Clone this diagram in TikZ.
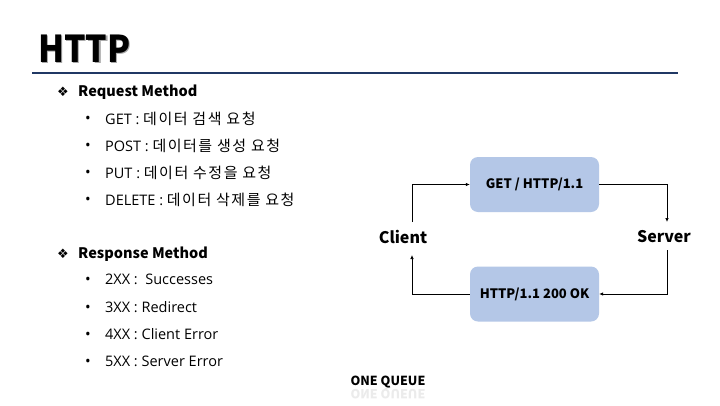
\documentclass[tikz,border=0pt]{standalone}
\usepackage{fontspec}
\setmainfont{Noto Sans CJK KR}
\newfontfamily\symfont{DejaVu Sans}
\newfontfamily\latfont{Open Sans}
\newfontfamily\krfont{Noto Sans CJK KR}[LetterSpace=10]
\newcommand{\K}[1]{{\fontsize{15}{17}\selectfont\krfont #1}}
\usetikzlibrary{arrows.meta}
\definecolor{navy}{HTML}{203864}
\definecolor{boxblue}{HTML}{B4C7E7}
\tikzset{
  head/.style={anchor=base west,font=\fontsize{14.5}{16}\selectfont\bfseries,inner sep=0},
  item/.style={anchor=base west,font=\fontsize{14.5}{15}\selectfont\latfont,inner sep=0},
  dot/.style={anchor=base,font=\fontsize{15}{14}\selectfont\latfont,inner sep=0},
  dia/.style={anchor=base,font=\fontsize{13}{13}\selectfont\symfont,inner sep=0},
  msgbox/.style={draw=none,fill=boxblue,rounded corners=8pt,minimum width=129pt,minimum height=55pt,font=\fontsize{13}{14}\selectfont\bfseries},
  ends/.style={font=\fontsize{16}{18}\selectfont\bfseries,inner sep=0},
  arr/.style={-{Latex[length=4pt,width=3.5pt]},line width=0.7pt,black},
  ttl/.style={anchor=base west,inner sep=0,font=\fontsize{37}{40}\selectfont\bfseries},
}
\begin{document}
\begin{tikzpicture}[x=1pt,y=-1pt]
\useasboundingbox (0,0) rectangle (720,405);
\fill[white] (0,0) rectangle (720,405);
% title with soft shadow
\node[ttl,text=black!35] (tshadow) at (39.5,63.5) {\scalebox{0.91}[1]{HTTP}};
\node[ttl] (title) at (38,62) {\scalebox{0.91}[1]{HTTP}};
\coordinate (ruleL) at (32,73);
\coordinate (ruleR) at (678,73);
\draw[navy,line width=1.6pt] (ruleL) -- (ruleR);
% request
\node[dia] (d1) at (63,96) {❖};
\node[head] (req) at (78,96) {Request Method};
\node[dot] (b1) at (88,123) {•};
\node[item] (i1) at (105,124) {GET : \K{데이터 검색 요청}};
\node[dot] (b2) at (88,150) {•};
\node[item] (i2) at (105,151) {POST : \K{데이터를 생성 요청}};
\node[dot] (b3) at (88,177) {•};
\node[item] (i3) at (105,178) {PUT : \K{데이터 수정을 요청}};
\node[dot] (b4) at (88,204) {•};
\node[item] (i4) at (105,205) {DELETE : \K{데이터 삭제를 요청}};
% response
\node[dia] (d2) at (63,258) {❖};
\node[head] (res) at (78,258) {Response Method};
\node[dot] (b5) at (88,284) {•};
\node[item] (i5) at (105,284) {2XX :\ \ Successes};
\node[dot] (b6) at (88,312) {•};
\node[item] (i6) at (105,312) {3XX : Redirect};
\node[dot] (b7) at (88,339) {•};
\node[item] (i7) at (105,339) {4XX : Client Error};
\node[dot] (b8) at (88,366) {•};
\node[item] (i8) at (105,366) {5XX : Server Error};
% diagram
\node[msgbox] (get) at (534.5,184.5) {GET / HTTP/1.1};
\node[msgbox] (ok) at (534.5,294) {HTTP/1.1 200 OK};
\node[ends] (client) at (403,237) {Client};
\node[ends] (server) at (664,237) {Server};
\coordinate (clTop) at (412,222);
\coordinate (clBot) at (412,255);
\coordinate (svTop) at (667,222);
\coordinate (svBot) at (667,250);
\draw[arr] (clTop) |- (get.west);
\draw[arr] (get.east) -| (svTop);
\draw[arr] (svBot) |- (ok.east);
\draw[arr] (ok.west) -| (clBot);
% footer
\node[anchor=base,inner sep=0,font=\fontsize{12.5}{13}\selectfont\bfseries] (queue) at (388,385) {ONE QUEUE};
\begin{scope}
\clip (300,388) rectangle (480,400);
\node[anchor=base,inner sep=0,font=\fontsize{12.5}{13}\selectfont\bfseries,yscale=-1,text=black!8] (queuerefl) at (388,389) {ONE QUEUE};
\end{scope}
\end{tikzpicture}
\end{document}
